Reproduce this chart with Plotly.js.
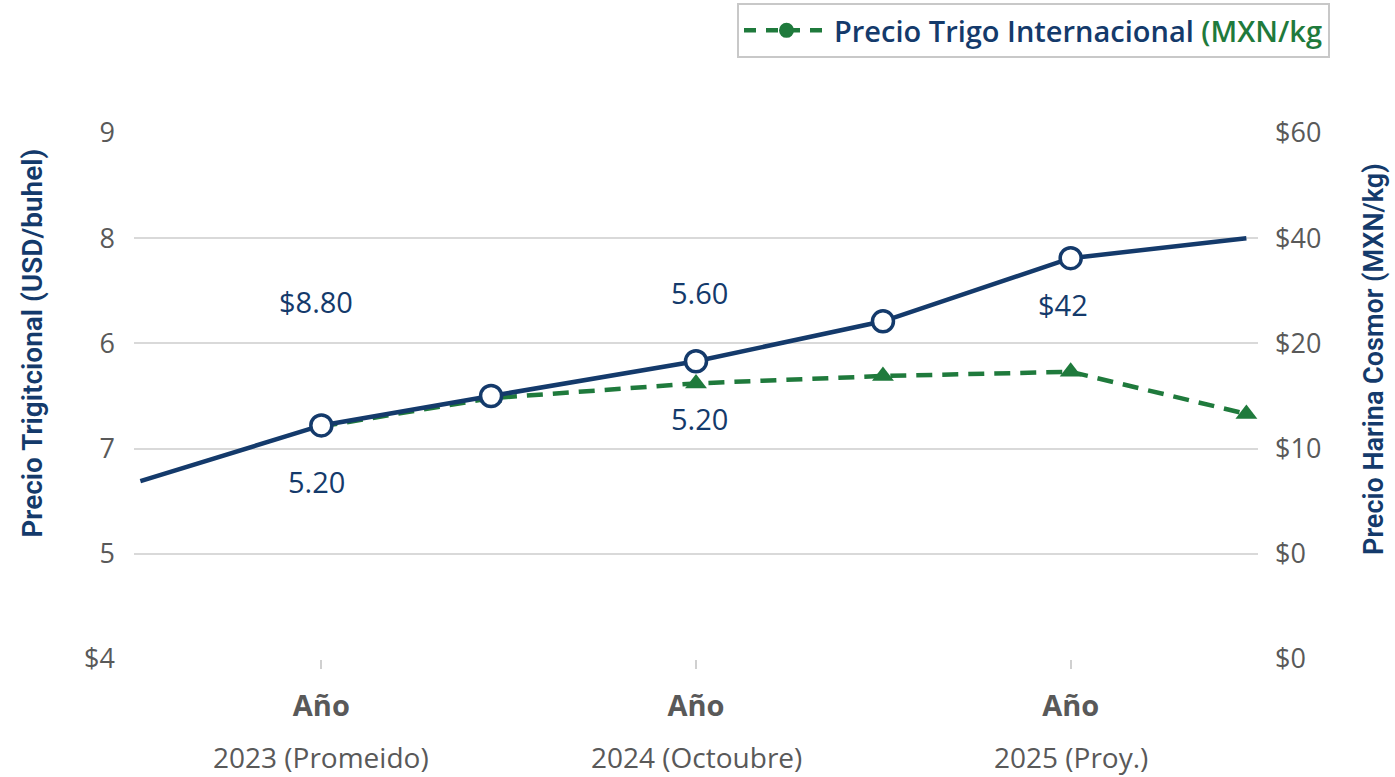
<!DOCTYPE html>
<html>
<head>
<meta charset="utf-8">
<script src="https://cdn.plot.ly/plotly-3.0.1.min.js"></script>
<style>html,body{margin:0;padding:0;background:#fff;}#chart{width:1395px;height:777px;}</style>
</head>
<body>
<div id="chart"></div>
<script>
// ---- data ----
const categories = ["2023 (Promeido)", "2024 (Octoubre)", "2025 (Proy.)"];
const catHeader = "Año";
const leftTickText = ["$4", "5", "7", "6", "8", "9"];
const rightTickText = ["$0", "$0", "$10", "$20", "$40", "$60"];
const tickPos = [0, 1, 2, 3, 4, 5];

// navy solid series (Precio Harina)
const harinaX = [-0.483, 0, 0.453, 1, 1.499, 2, 2.469];
const harinaY = [1.69, 2.22, 2.50, 2.83, 3.21, 3.81, 4.00];
const harinaMarkerShown = [false, true, true, true, true, true, false];

// green dashed series (Precio Trigo Internacional)
const trigoX = [0, 0.453, 1, 1.499, 2, 2.469];
const trigoY = [2.21, 2.48, 2.62, 2.69, 2.73, 2.33];

// value labels
const labelText = ["$8.80", "5.20", "5.60", "5.20", "$42"];
const labelX = [-0.013, -0.013, 1.01, 1.01, 1.979];
const labelY = [3.40, 1.69, 3.48, 2.29, 3.37];

const NAVY = "#143a6b";
const GREEN = "#1f7a3c";
const GRAY = "#595959";

const traces = [
  {
    x: trigoX, y: trigoY, type: "scatter", mode: "lines+markers",
    line: {color: GREEN, width: 4.5, dash: "16px,10px"},
    marker: {symbol: "triangle-up", size: 19, color: GREEN},
    showlegend: false, hoverinfo: "skip"
  },
  {
    x: harinaX, y: harinaY, type: "scatter", mode: "lines",
    line: {color: NAVY, width: 4.5},
    showlegend: false, hoverinfo: "skip"
  },
  {
    x: harinaX.filter((_, i) => harinaMarkerShown[i]),
    y: harinaY.filter((_, i) => harinaMarkerShown[i]),
    type: "scatter", mode: "markers",
    marker: {symbol: "circle", size: 21, color: "#ffffff", line: {color: NAVY, width: 3.5}},
    showlegend: false, hoverinfo: "skip"
  },
  {
    x: [null], y: [null], type: "scatter", mode: "lines+markers",
    name: "<span style='color:" + NAVY + "'>Precio Trigo Internacional</span> <span style='color:" + GREEN + "'>(MXN/kg</span>",
    line: {color: GREEN, width: 4.5, dash: "12px,10px"},
    marker: {symbol: "circle", size: 15, color: GREEN},
    showlegend: true
  },
  {
    x: [null], y: [null], yaxis: "y2", type: "scatter", mode: "markers",
    showlegend: false, hoverinfo: "skip"
  }
];

const annotations = labelText.map((t, i) => ({
  x: labelX[i], y: labelY[i], xref: "x", yref: "y", text: t, showarrow: false,
  font: {family: "Open Sans, sans-serif", size: 29, color: NAVY}
}));

categories.forEach((c, i) => {
  annotations.push({
    x: i, y: 0, xref: "x", yref: "paper", text: c, showarrow: false,
    yanchor: "middle", yshift: -98,
    font: {family: "Open Sans, sans-serif", size: 28, color: GRAY}
  });
});

annotations.push({
  x: -0.107, y: 0.6, xref: "paper", yref: "paper", textangle: -90,
  text: "Precio Trigitcional (USD/buhel)", showarrow: false,
  font: {family: "Liberation Sans Narrow, Roboto, sans-serif", size: 28, color: NAVY, weight: 600}
});
annotations.push({
  x: 1.119, y: 0.57, xref: "paper", yref: "paper", textangle: -90,
  text: "Precio Harina Cosmor (MXN/kg)", showarrow: false,
  font: {family: "Liberation Sans Narrow, Roboto, sans-serif", size: 27, color: NAVY, weight: 600}
});

const layout = {
  width: 1395, height: 777,
  margin: {l: 134, r: 137, t: 133, b: 118, autoexpand: false},
  paper_bgcolor: "#ffffff", plot_bgcolor: "#ffffff",
  xaxis: {
    range: [-0.5, 2.5], tickvals: [0, 1, 2],
    ticktext: categories.map(() => "<b>" + catHeader + "</b>"),
    showgrid: false, zeroline: false, showline: false,
    ticks: "outside", ticklen: 9, tickwidth: 1.5, tickcolor: "#d0d0d0",
    ticklabelstandoff: 12,
    tickfont: {family: "Open Sans, sans-serif", size: 29, color: GRAY}
  },
  yaxis: {
    range: [0, 5], tickvals: tickPos, ticktext: leftTickText,
    showgrid: true, gridcolor: "#d9d9d9", gridwidth: 2,
    zeroline: false, showline: false,
    ticks: "", ticklabelstandoff: 18,
    tickfont: {family: "Open Sans, sans-serif", size: 27, color: GRAY}
  },
  yaxis2: {
    range: [0, 5], tickvals: tickPos, ticktext: rightTickText,
    overlaying: "y", side: "right", showgrid: false, zeroline: false, showline: false,
    ticks: "", ticklabelstandoff: 16,
    tickfont: {family: "Open Sans, sans-serif", size: 27, color: GRAY}
  },
  showlegend: true,
  legend: {
    xref: "container", yref: "container",
    x: 737 / 1395, y: 1 - 3 / 777, xanchor: "left", yanchor: "top",
    bordercolor: "#c8c8c8", borderwidth: 2, bgcolor: "#ffffff",
    font: {family: "Open Sans, sans-serif", size: 29, color: NAVY, weight: 600},
    itemwidth: 85
  },
  annotations: annotations
};

Plotly.newPlot("chart", traces, layout, {displayModeBar: false, responsive: false});
</script>
</body>
</html>
